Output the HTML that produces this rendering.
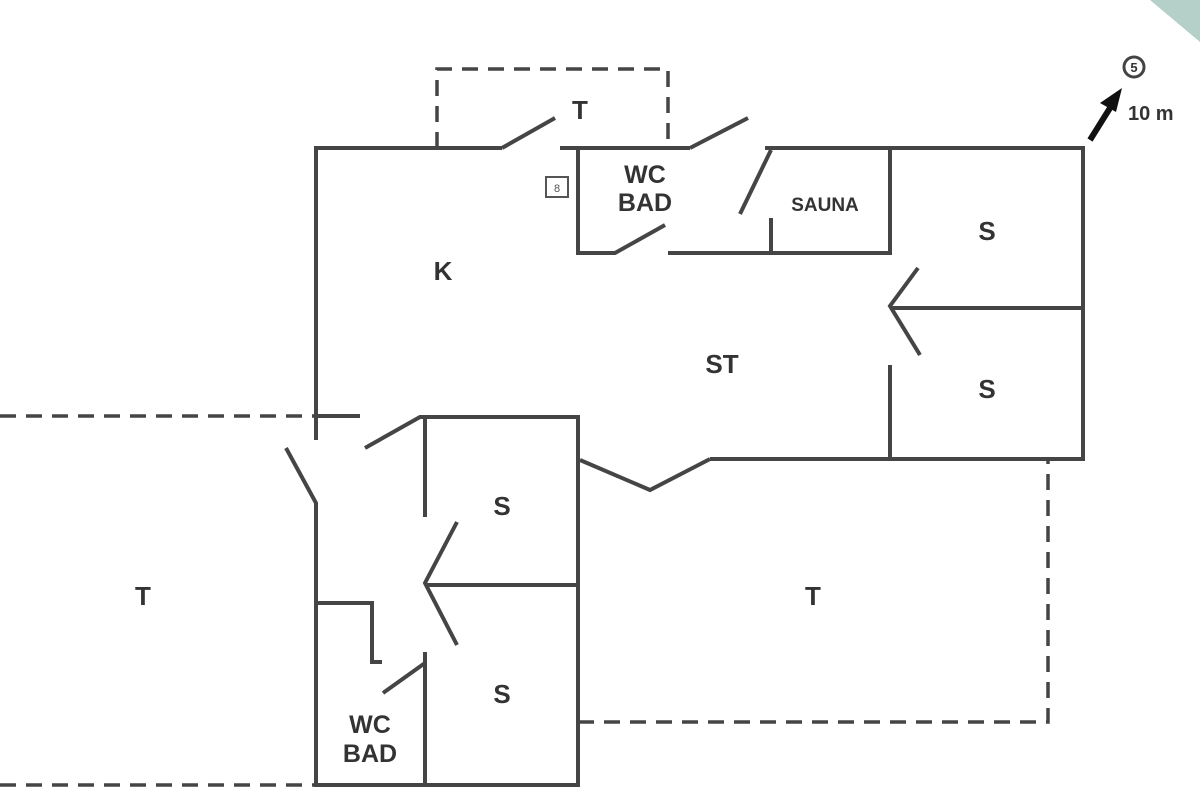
<!DOCTYPE html>
<html><head><style>html,body{margin:0;padding:0;background:#fff;}svg{display:block}</style></head>
<body>
<svg width="1200" height="800" viewBox="0 0 1200 800" xmlns="http://www.w3.org/2000/svg">
<rect width="1200" height="800" fill="#fff"/>
<polygon points="1150,0 1200,0 1200,42" fill="#b5d0c8"/>
<g stroke="#454545" stroke-width="4" fill="none" stroke-linecap="butt">
<!-- dashed -->
<g stroke-dasharray="16,10" stroke-width="3.5">
<path d="M437,148 V69 H668 V148"/>
<path d="M0,416 H316"/>
<path d="M0,785 H316"/>
<path d="M578,722 H1048 V459"/>
</g>
<!-- top walls -->
<path d="M316,440 V148 H502"/>
<path d="M502,148 L555,118"/>
<path d="M560,148 H690"/>
<path d="M690,148 L748,118"/>
<path d="M765,148 H1083 V459 H710"/>
<!-- WC top -->
<path d="M578,148 V253 H615 L665,225"/>
<!-- Sauna -->
<path d="M771,150 L740,214"/>
<path d="M668,253 H890 V148"/>
<path d="M771,218 V253"/>
<!-- right rooms -->
<path d="M890,308 H1083"/>
<path d="M918,268 L890,306 L920,355"/>
<path d="M890,365 V459"/>
<!-- bottom V door -->
<path d="M580,460 L650,490 L710,459"/>
<!-- left side -->
<path d="M316,416 H360"/>
<path d="M286,448 L316,503 V785 H578 V417 H420 L365,448"/>
<path d="M425,417 V517"/>
<path d="M425,585 H578"/>
<path d="M457,522 L425,583 L457,645"/>
<path d="M425,652 V785"/>
<path d="M316,603 H372 V662 H382"/>
<path d="M383,693 L425,663"/>
</g>
<rect x="546" y="177" width="22" height="20" fill="none" stroke="#555" stroke-width="2"/>
<text x="557" y="192" font-family="Liberation Sans, sans-serif" font-size="11" text-anchor="middle" fill="#555">8</text>
<g font-family="Liberation Sans, sans-serif" font-weight="bold" fill="#333" text-anchor="middle" font-size="26">
<text x="580" y="119">T</text>
<text x="645" y="183" font-size="25">WC</text>
<text x="645" y="211" font-size="25">BAD</text>
<text x="825" y="211" font-size="19">SAUNA</text>
<text x="987" y="240">S</text>
<text x="443" y="280">K</text>
<text x="722" y="373">ST</text>
<text x="987" y="398">S</text>
<text x="502" y="515">S</text>
<text x="143" y="605">T</text>
<text x="813" y="605">T</text>
<text x="502" y="703">S</text>
<text x="370" y="733" font-size="25">WC</text>
<text x="370" y="762" font-size="25">BAD</text>
</g>
<circle cx="1134" cy="67" r="10" fill="none" stroke="#444" stroke-width="3"/>
<text x="1134" y="72" font-family="Liberation Sans, sans-serif" font-size="13" font-weight="bold" text-anchor="middle" fill="#333">5</text>
<line x1="1090" y1="140" x2="1110" y2="108" stroke="#111" stroke-width="6"/>
<polygon points="1122,88 1100,103 1116,112" fill="#111"/>
<text x="1128" y="120" font-family="Liberation Sans, sans-serif" font-size="20" font-weight="bold" fill="#333">10 m</text>
</svg>
</body></html>
